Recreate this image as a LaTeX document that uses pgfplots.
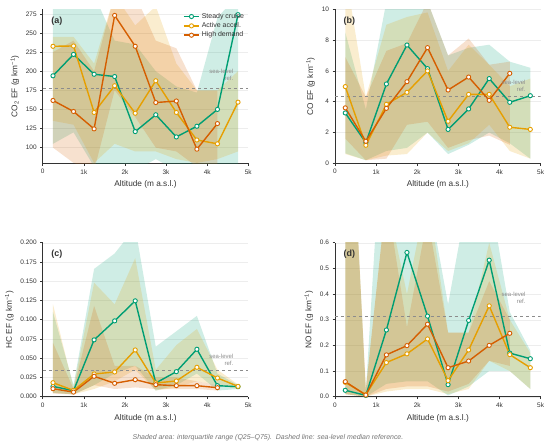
\documentclass[border=0pt]{standalone}
\usepackage{fontspec}
\setmainfont{Liberation Sans}
\setsansfont{Liberation Sans}
\usepackage{pgfplots}
\usepackage{pgfplotstable}
\pgfplotsset{compat=1.18}
\definecolor{cG}{HTML}{009E73}
\definecolor{cA}{HTML}{E69F00}
\definecolor{cH}{HTML}{D55E00}
\definecolor{axc}{HTML}{333333}
\pgfplotsset{
  myax/.style={
    scale only axis, width=205.6bp, height=154bp,
    xmin=0, xmax=5000, xtick={0,1000,2000,3000,4000,5000},
    xticklabels={0,1k,2k,3k,4k,5k},
    axis lines*=left,
    axis line style={draw=axc, line width=0.6bp},
    tick style={draw=axc, line width=0.6bp},
    tick align=outside, major tick length=2.5bp,
    ymajorgrids, grid style={black!7, line width=0.4bp},
    tick label style={font=\fontsize{6.5}{7}\selectfont, text=axc},
    label style={font=\fontsize{8.3}{10}\selectfont, text=axc},
    xlabel={Altitude (m a.s.l.)},
    /pgf/number format/assume math mode=true,
    scaled y ticks=false,
    legend cell align=left,
  },
  ln/.style={#1, line width=1.4bp, mark=*, mark size=2.1bp,
    mark options={fill=white, draw=#1, line width=0.9bp, solid}},
  sref/.style={draw=black!45, dashed, line width=0.8bp, forget plot},
  bnd/.style={fill=#1, fill opacity=0.19, draw=none, forget plot},
}
\newcommand{\plab}[1]{\node[anchor=west, font=\fontsize{9}{10}\selectfont\bfseries, text=axc] at (rel axis cs:0.025,0.925) {#1};}
\newcommand{\slref}[1]{\node[anchor=east, align=right, font=\fontsize{6}{7}\selectfont, text=black!45] at (axis cs:4720,#1) {sea-level\\ref.};}
\begin{document}
% medians: x, steady cruise (G), active accel. (A), high demand (H; none at 4750)
\pgfplotstableread{
x G A H
250 194 232.6 161.7
750 222 233 147.3
1250 196 146 124.5
1750 193 181 273
2250 121 145 232.6
2750 143 187.5 159
3250 114 146 161
3750 128 110 98
4250 150 105 131.5
4750 274 159.5 nan
}\TabA
\pgfplotstableread{
x G A H
250 3.27 4.98 3.6
750 1.34 1.17 1.43
1250 5.15 3.83 3.57
1750 7.68 4.61 5.3
2250 6.15 6.0 7.51
2750 2.2 2.73 4.76
3250 3.53 4.48 5.6
3750 5.5 4.48 4.09
4250 3.96 2.34 5.84
4750 4.39 2.2 nan
}\TabB
\pgfplotstableread{
x G A H
250 0.0134 0.0182 0.0104
750 0.0078 0.0082 0.006
1250 0.0738 0.0295 0.0265
1750 0.0985 0.0321 0.0174
2250 0.1245 0.0607 0.0221
2750 0.0178 0.0178 0.0156
3250 0.0325 0.0204 0.0143
3750 0.0616 0.0382 0.0143
4250 0.0143 0.0243 0.0117
4750 0.013 0.0134 nan
}\TabC
\pgfplotstableread{
x G A H
250 0.025 0.056 0.0586
750 0.005 0.008 0.0065
1250 0.26 0.133 0.163
1750 0.562 0.167 0.199
2250 0.314 0.225 0.2825
2750 0.047 0.0625 0.113
3250 0.297 0.182 0.139
3750 0.532 0.354 0.2
4250 0.17 0.164 0.247
4750 0.148 0.113 nan
}\TabD
\begin{tikzpicture}
\path (0,0) rectangle (550bp,445bp);
% (a)
\begin{axis}[myax, at={(42.7bp,281.7bp)}, anchor=south west,
  ymin=79.5, ymax=281, ytick={100,125,150,175,200,225,250,275},
  ylabel={CO\textsubscript{2} EF (g km\textsuperscript{−1})},
  legend style={at={(0.995,0.995)}, anchor=north east, draw=none, fill=none,
    font=\fontsize{7}{8}\selectfont, text=axc, row sep=-1.2bp, inner sep=1bp},
  legend image code/.code={\draw[mark repeat=2,mark phase=2] plot coordinates {(0cm,0cm) (0.27cm,0cm) (0.54cm,0cm)};}]
\addplot[bnd=cG] coordinates {(250,300)(750,300)(1250,300)(1750,240)(2250,235)(2750,200)(3250,180)(3750,172)(4250,270)(4750,300)
  (4750,60)(4250,60)(3750,60)(3250,70)(2750,85)(2250,70)(1750,70)(1250,75)(750,120)(250,105)} -- cycle;
\addplot[bnd=cA] coordinates {(250,245)(750,245)(1250,210)(1750,300)(2250,260)(2750,285)(3250,210)(3750,175)(4250,175)(4750,200)
  (4750,95)(4250,85)(3750,80)(3250,85)(2750,95)(2250,95)(1750,105)(1250,80)(750,130)(250,135)} -- cycle;
\addplot[bnd=cH] coordinates {(250,225)(750,240)(1250,200)(1750,300)(2250,300)(2750,240)(3250,230)(3750,175)(4250,175)
  (4250,75)(3750,75)(3250,95)(2750,100)(2250,140)(1750,175)(1250,70)(750,80)(250,100)} -- cycle;
\addplot[sref] coordinates {(0,177) (5000,177)};
\addplot[ln=cG] table[x=x,y=G]{\TabA};
\addplot[ln=cA] table[x=x,y=A]{\TabA};
\addplot[ln=cH] table[x=x,y=H]{\TabA};
\legend{Steady cruise, Active accel., High demand}
\plab{(a)}
\slref{194.7}
\end{axis}
% (b)
\begin{axis}[myax, at={(335bp,281.7bp)}, anchor=south west,
  ymin=0, ymax=10, ytick={0,2,4,6,8,10},
  ylabel={CO EF (g km\textsuperscript{−1})}]
\addplot[bnd=cG] coordinates {(250,8.5)(750,3.5)(1250,10.5)(1750,10.5)(2250,10.5)(2750,7.0)(3250,7.5)(3750,7.7)(4250,6.6)(4750,6.2)
  (4750,0.3)(4250,1.3)(3750,2.0)(3250,1.2)(2750,0.6)(2250,2.0)(1750,1.0)(1250,0.8)(750,0.2)(250,0.65)} -- cycle;
\addplot[bnd=cA] coordinates {(250,12.5)(750,4.3)(1250,9.0)(1750,9.5)(2250,9.8)(2750,6.0)(3250,7.7)(3750,6.4)(4250,5.0)(4750,5.5)
  (4750,0.3)(4250,0.8)(3750,2.5)(3250,1.3)(2750,0.8)(2250,2.0)(1750,0.6)(1250,0.5)(750,0.2)(250,0.6)} -- cycle;
\addplot[bnd=cH] coordinates {(250,6.9)(750,4.3)(1250,7.3)(1750,7.8)(2250,10.5)(2750,7.0)(3250,8.1)(3750,6.4)(4250,6.6)
  (4250,1.2)(3750,1.8)(3250,1.5)(2750,1.0)(2250,2.7)(1750,2.5)(1250,0.3)(750,0.2)(250,1.6)} -- cycle;
\addplot[sref] coordinates {(0,4.35) (5000,4.35)};
\addplot[ln=cG] table[x=x,y=G]{\TabB};
\addplot[ln=cA] table[x=x,y=A]{\TabB};
\addplot[ln=cH] table[x=x,y=H]{\TabB};
\plab{(b)}
\slref{5.0}
\end{axis}
% (c)
\begin{axis}[myax, at={(42.7bp,48.3bp)}, anchor=south west,
  ymin=0, ymax=0.2, ytick={0,0.025,0.05,0.075,0.1,0.125,0.15,0.175,0.2},
  yticklabel style={/pgf/number format/.cd, fixed, fixed zerofill, precision=3},
  ylabel={HC EF (g km\textsuperscript{−1})}]
\addplot[bnd=cG] coordinates {(250,0.11)(750,0.015)(1250,0.166)(1750,0.186)(2250,0.22)(2750,0.065)(3250,0.085)(3750,0.105)(4250,0.03)(4750,0.015)
  (4750,0.01)(4250,0.008)(3750,0.03)(3250,0.015)(2750,0.008)(2250,0.04)(1750,0.03)(1250,0.015)(750,0.003)(250,0.005)} -- cycle;
\addplot[bnd=cA] coordinates {(250,0.12)(750,0.012)(1250,0.148)(1750,0.12)(2250,0.18)(2750,0.035)(3250,0.067)(3750,0.088)(4250,0.035)(4750,0.016)
  (4750,0.01)(4250,0.015)(3750,0.02)(3250,0.012)(2750,0.008)(2250,0.035)(1750,0.02)(1250,0.01)(750,0.003)(250,0.005)} -- cycle;
\addplot[bnd=cH] coordinates {(250,0.07)(750,0.01)(1250,0.118)(1750,0.04)(2250,0.04)(2750,0.025)(3250,0.025)(3750,0.02)(4250,0.015)
  (4250,0.008)(3750,0.01)(3250,0.01)(2750,0.01)(2250,0.012)(1750,0.01)(1250,0.015)(750,0.003)(250,0.004)} -- cycle;
\addplot[sref] coordinates {(0,0.0343) (5000,0.0343)};
\addplot[ln=cG] table[x=x,y=G]{\TabC};
\addplot[ln=cA] table[x=x,y=A]{\TabC};
\addplot[ln=cH] table[x=x,y=H]{\TabC};
\plab{(c)}
\slref{0.0477}
\end{axis}
% (d)
\begin{axis}[myax, at={(335bp,48.3bp)}, anchor=south west,
  ymin=0, ymax=0.6, ytick={0,0.1,0.2,0.3,0.4,0.5,0.6},
  yticklabel style={/pgf/number format/.cd, fixed, fixed zerofill, precision=1},
  ylabel={NO EF (g km\textsuperscript{−1})}]
\addplot[bnd=cG] coordinates {(250,1.6)(750,0.02)(1250,1.34)(1750,0.8)(2250,0.8)(2750,0.36)(3250,0.8)(3750,0.8)(4250,0.33)(4750,0.18)
  (4750,0.03)(4250,0.1)(3750,0.1)(3250,0.04)(2750,0.005)(2250,0.06)(1750,0.06)(1250,0.05)(750,0.0)(250,0.01)} -- cycle;
\addplot[bnd=cA] coordinates {(250,1.6)(750,0.03)(1250,0.78)(1750,0.4)(2250,0.8)(2750,0.25)(3250,0.25)(3750,0.6)(4250,0.3)(4750,0.17)
  (4750,0.03)(4250,0.1)(3750,0.14)(3250,0.03)(2750,0.01)(2250,0.03)(1750,0.03)(1250,0.02)(750,0.0)(250,0.01)} -- cycle;
\addplot[bnd=cH] coordinates {(250,1.6)(750,0.03)(1250,0.78)(1750,0.27)(2250,0.7)(2750,0.25)(3250,0.25)(3750,0.45)(4250,0.3)
  (4250,0.12)(3750,0.14)(3250,0.05)(2750,0.02)(2250,0.04)(1750,0.04)(1250,0.03)(750,0.0)(250,0.01)} -- cycle;
\addplot[sref] coordinates {(0,0.314) (5000,0.314)};
\addplot[ln=cG] table[x=x,y=G]{\TabD};
\addplot[ln=cA] table[x=x,y=A]{\TabD};
\addplot[ln=cH] table[x=x,y=H]{\TabD};
\plab{(d)}
\slref{0.387}
\end{axis}
\node[font=\fontsize{7}{8}\selectfont\itshape, text=black!55] at (268bp,7bp)
  {Shaded area: interquartile range (Q25–Q75).\ \ Dashed line: sea-level median reference.};
\end{tikzpicture}
\end{document}
